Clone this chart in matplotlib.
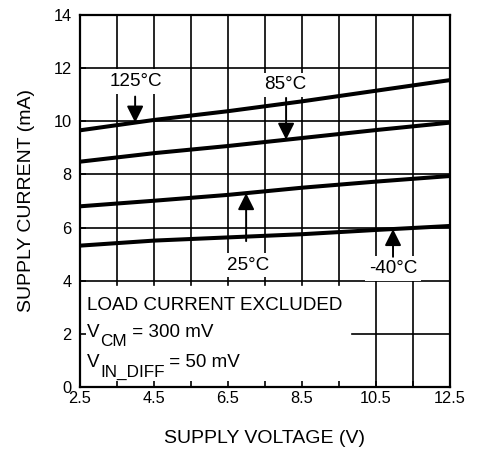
import numpy as np
import matplotlib
matplotlib.use("Agg")
import matplotlib.pyplot as plt

plt.rcParams['font.family'] = ['Liberation Sans', 'DejaVu Sans']

# Supply current vs supply voltage at four temperatures
voltage = [2.5, 4.5, 6.5, 8.5, 10.5, 12.5]
current_125c = [9.66, 10.05, 10.38, 10.75, 11.15, 11.55]
current_85c = [8.48, 8.80, 9.07, 9.37, 9.67, 9.95]
current_25c = [6.80, 7.01, 7.23, 7.50, 7.73, 7.94]
current_m40c = [5.32, 5.51, 5.63, 5.75, 5.91, 6.06]

x_ticks = [2.5, 3.5, 4.5, 5.5, 6.5, 7.5, 8.5, 9.5, 10.5, 11.5, 12.5]
x_tick_labels = ['2.5', '', '4.5', '', '6.5', '', '8.5', '', '10.5', '', '12.5']
y_ticks = [0, 2, 4, 6, 8, 10, 12, 14]
y_tick_labels = ['0', '2', '4', '6', '8', '10', '12', '14']

series = [
    ('125°C', current_125c, (4.01, 11.49), 3.99, 10.93),
    ('85°C', current_85c, (8.04, 11.37), 8.07, 10.88),
    ('25°C', current_25c, (7.04, 4.59), 6.99, 5.49),
    ('-40°C', current_m40c, (10.96, 4.46), 10.96, 4.90),
]

fig = plt.figure(figsize=(4.78, 4.5), dpi=100)
ax = fig.add_axes([80 / 478, 63 / 450, 370 / 478, 372 / 450])
ax.set_xlim(2.5, 12.5)
ax.set_ylim(0, 14)

grid_kw = dict(color='black', lw=1.2, zorder=1)
# vertical grid: left part stops at the note area
for xv in x_ticks[1:-1]:
    y0 = 3.85 if xv < 10 else 0
    ax.plot([xv, xv], [y0, 14], **grid_kw)
# horizontal grid
for yv in y_ticks[1:-1]:
    x0 = 9.85 if yv == 2 else 2.5
    ax.plot([x0, 12.5], [yv, yv], **grid_kw)

for name, cur, (tx, ty), ax_x, tail_y in series:
    ax.plot(voltage, cur, color='black', lw=2.9, zorder=4, solid_capstyle='butt')
    ax.text(tx, ty, name, fontsize=13.6, ha='center', va='center', zorder=3,
            bbox=dict(facecolor='white', edgecolor='none', boxstyle='square,pad=0.2'))
    tip_y = float(np.interp(ax_x, voltage, cur))
    ax.annotate('', xy=(ax_x, tip_y), xytext=(ax_x, tail_y), zorder=5,
                arrowprops=dict(arrowstyle='-|>,head_length=0.5,head_width=0.25',
                                mutation_scale=20, lw=1.4, color='black',
                                shrinkA=0, shrinkB=0))

# test conditions note
fs = 13.6
ax.text(2.68, 2.90, 'LOAD CURRENT EXCLUDED', fontsize=fs, va='baseline', zorder=6)


def sub_line(y, main, sub, rest):
    t1 = ax.text(2.68, y, main, fontsize=fs, va='baseline', zorder=6)
    t2 = ax.annotate(sub, xy=(1, y), xycoords=(t1, 'data'), xytext=(0.5, -6.9),
                     textcoords='offset points', fontsize=12.3, va='baseline', zorder=6)
    ax.annotate(rest, xy=(1, y), xycoords=(t2, 'data'), xytext=(0, 0),
                textcoords='offset points', fontsize=fs, va='baseline', zorder=6)


sub_line(1.89, 'V', 'CM', ' = 300 mV')
sub_line(0.74, 'V', 'IN_DIFF', ' = 50 mV')

ax.set_xticks(x_ticks)
ax.set_xticklabels(x_tick_labels)
ax.set_yticks(y_ticks)
ax.set_yticklabels(y_tick_labels)
ax.tick_params(axis='both', direction='in', length=4, width=1.2, labelsize=11.8, color='black')
ax.tick_params(axis='x', pad=3)
ax.tick_params(axis='y', pad=6)
for sp in ax.spines.values():
    sp.set_linewidth(1.6)
    sp.set_zorder(6)

ax.set_xlabel('SUPPLY VOLTAGE (V)', fontsize=14, labelpad=17)
ax.set_ylabel('SUPPLY CURRENT (mA)', fontsize=14, labelpad=13)

fig.savefig('out.png', dpi=100)
